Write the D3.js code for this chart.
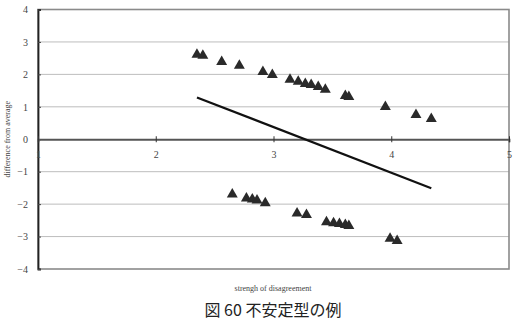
<!DOCTYPE html>
<html>
<head>
<meta charset="utf-8">
<script src="https://cdn.jsdelivr.net/npm/d3@7"></script>
<style>
body { margin: 0; background: #fff; }
</style>
</head>
<body>
<div id="Chart"></div>
<script>
var w = 522;
var h = 321;

// upper group
var upperX = [2.35, 2.40, 2.56, 2.71, 2.91, 2.99, 3.14, 3.21, 3.27, 3.32, 3.38, 3.44, 3.61, 3.64, 3.95, 4.21, 4.34];
var upperY = [2.64, 2.61, 2.42, 2.30, 2.11, 2.02, 1.87, 1.81, 1.74, 1.71, 1.65, 1.56, 1.37, 1.34, 1.03, 0.78, 0.66];
// lower group
var lowerX = [2.65, 2.77, 2.82, 2.86, 2.93, 3.20, 3.28, 3.45, 3.51, 3.56, 3.61, 3.64, 3.99, 4.05];
var lowerY = [-1.67, -1.79, -1.82, -1.85, -1.94, -2.25, -2.30, -2.52, -2.55, -2.58, -2.61, -2.64, -3.03, -3.10];
// trend line
var lineX = [2.35, 4.34];
var lineY = [1.29, -1.51];

var xTicks = [1, 2, 3, 4, 5];
var yTicks = [-4, -3, -2, -1, 0, 1, 2, 3, 4];

var xTitle = "strengh of disagreement";
var yTitle = "difference from average";
var caption = "図 60  不安定型の例";

var serif = "'Liberation Serif', 'DejaVu Serif', serif";

function doChart()
{
    var svg = d3.select("#Chart").append("svg")
        .attr("width", w)
        .attr("height", h);

    var left = 38, right = 509, top = 9.5, bottom = 269;

    var x = d3.scaleLinear().domain([1, 5]).range([left, right]);
    var y = d3.scaleLinear().domain([-4, 4]).range([bottom, top]);

    // gridlines
    svg.append("g").selectAll("line")
        .data(yTicks.filter(d => d != 0 && d != -4 && d != 4))
        .enter().append("line")
        .attr("x1", left).attr("x2", right)
        .attr("y1", d => y(d)).attr("y2", d => y(d))
        .attr("stroke", "#bdbdbd")
        .attr("stroke-width", 1);

    // frame
    svg.append("rect")
        .attr("x", left).attr("y", top)
        .attr("width", right - left).attr("height", bottom - top)
        .attr("fill", "none")
        .attr("stroke", "#8a8a8a")
        .attr("stroke-width", 1.6);

    // y axis
    var yAxis = d3.axisLeft(y).tickValues(yTicks).tickSize(-3).tickPadding(10).tickFormat(d3.format("d"));
    var gy = svg.append("g").attr("transform", "translate(" + left + ",0)").call(yAxis);
    gy.select(".domain").attr("stroke", "#222").attr("stroke-width", 1.8);
    gy.selectAll(".tick line").attr("stroke", "#444");
    gy.selectAll("text").style("font-size", "10px").style("font-family", serif).attr("fill", "#444");

    // x axis on zero line
    var xAxis = d3.axisBottom(x).tickValues(xTicks).tickSize(3).tickPadding(9).tickFormat(d3.format("d"));
    var gx = svg.append("g").attr("transform", "translate(0," + y(0) + ")").call(xAxis);
    gx.select(".domain").attr("stroke", "#555").attr("stroke-width", 1.8);
    gx.selectAll(".tick line").attr("stroke", "#333").attr("y1", -3);
    gx.selectAll("text").style("font-size", "10px").style("font-family", serif).attr("fill", "#444");

    // trend line
    svg.append("line")
        .attr("x1", x(lineX[0])).attr("y1", y(lineY[0]))
        .attr("x2", x(lineX[1])).attr("y2", y(lineY[1]))
        .attr("stroke", "#111")
        .attr("stroke-width", 2.2);

    var tri = d3.symbol().type(d3.symbolTriangle).size(52);

    var pts = upperX.map((d, i) => [d, upperY[i]])
        .concat(lowerX.map((d, i) => [d, lowerY[i]]));

    svg.append("g").selectAll("path")
        .data(pts)
        .enter().append("path")
        .attr("d", tri)
        .attr("transform", d => "translate(" + x(d[0]) + "," + (y(d[1]) + 1) + ")")
        .attr("fill", "#2a2a2a");

    // titles
    svg.append("text")
        .attr("transform", "translate(10," + ((top + bottom) / 2) + ") rotate(-90)")
        .attr("text-anchor", "middle")
        .style("font-size", "8px")
        .style("font-family", serif)
        .attr("fill", "#444")
        .text(yTitle);

    svg.append("text")
        .attr("x", 273).attr("y", 291)
        .attr("text-anchor", "middle")
        .style("font-size", "8px")
        .style("font-family", serif)
        .attr("fill", "#444")
        .text(xTitle);

    svg.append("text")
        .attr("x", 273).attr("y", 316)
        .attr("text-anchor", "middle")
        .style("font-size", "16px")
        .style("font-family", "'Noto Sans CJK JP', sans-serif")
        .attr("fill", "#222")
        .text(caption);
}

doChart();
</script>
</body>
</html>
